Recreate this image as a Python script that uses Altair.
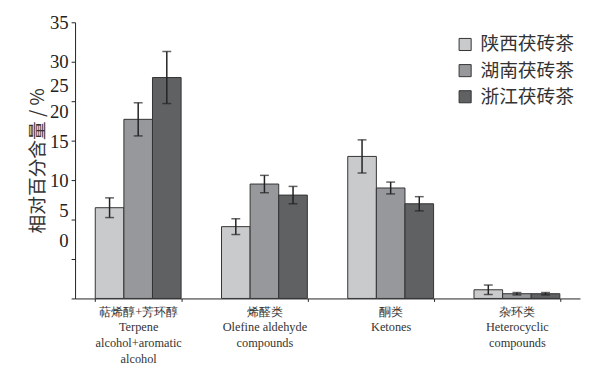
import altair as alt
import pandas as pd

categories = [
    "萜烯醇+芳环醇\nTerpene\nalcohol+aromatic\nalcohol",
    "烯醛类\nOlefine aldehyde\ncompounds",
    "酮类\nKetones",
    "杂环类\nHeterocyclic\ncompounds",
]
series = ["陕西茯砖茶", "湖南茯砖茶", "浙江茯砖茶"]
shaanxi = [11.5, 9.1, 18.0, 1.1]
shaanxi_err = [1.25, 1.0, 2.1, 0.6]
hunan = [22.7, 14.5, 14.0, 0.6]
hunan_err = [2.1, 1.1, 0.75, 0.15]
zhejiang = [28.0, 13.1, 12.0, 0.6]
zhejiang_err = [3.3, 1.1, 0.9, 0.15]
y_ticks = [0, 5, 10, 15, 20, 25, 30, 35]
colors = ["#c9cacc", "#96989b", "#5f6163"]

rows = []
for s, vals, errs in zip(series, [shaanxi, hunan, zhejiang], [shaanxi_err, hunan_err, zhejiang_err]):
    for c, v, e in zip(categories, vals, errs):
        rows.append({"cat": c, "series": s, "value": v, "lo": v - e, "hi": v + e})
df = pd.DataFrame(rows)

xaxis = alt.Axis(
    labelExpr="split(datum.label, '\\n')", labelAngle=0, labelFont="Liberation Serif",
    labelFontSize=12.5, labelColor="#333", labelLineHeight=16, labelPadding=4,
    tickBand="extent", tickSize=3, tickColor="#222", domainColor="#222",
    labelBaseline="top",
)
xscale = alt.Scale(paddingInner=0.32, paddingOuter=0.16)
xenc = alt.X("cat:N", sort=categories, title=None, scale=xscale, axis=xaxis)

yscale = alt.Scale(domain=[0, 35], nice=False)
offset_expr = ("datum.value == 25 ? -16 : datum.value == 20 ? -29 : datum.value == 15 ? -39 : "
               "datum.value == 10 ? -39 : datum.value == 5 ? -49 : datum.value == 0 ? -59 : 0")
yaxis = alt.Axis(values=y_ticks, tickSize=4, tickColor="#222",
                 domainColor="#222", grid=False, labelFont="Liberation Serif",
                 labelFontSize=19, labelColor="#222", labelPadding=3,
                 labelOverlap=False, labelFlush=False, labelBound=False,
                 labelOffset={"expr": offset_expr},
                 titleFont="Noto Sans CJK SC", titleFontSize=19, titleFontWeight="normal",
                 titleColor="#333", titlePadding=2)
ytitle = "相对百分含量 / %"
xoff = alt.XOffset("series:N", sort=series)

bars = alt.Chart(df).mark_bar(stroke="#333", strokeWidth=1).encode(
    x=xenc,
    xOffset=xoff,
    y=alt.Y("value:Q", scale=yscale, title=ytitle, axis=yaxis),
    fill=alt.Fill("series:N", sort=series, scale=alt.Scale(domain=series, range=colors),
                  legend=alt.Legend(title=None, orient="none", legendX=386, legendY=13,
                                    symbolType="square", symbolSize=150, symbolStrokeColor="#333",
                                    symbolStrokeWidth=1, labelFont="Noto Sans CJK SC",
                                    labelFontSize=19, labelColor="#333", rowPadding=6.5,
                                    labelOffset=6)),
)

rules = alt.Chart(df).mark_rule(color="#222", strokeWidth=1.5).encode(
    x=xenc,
    xOffset=xoff,
    y=alt.Y("lo:Q", scale=yscale, title=ytitle, axis=yaxis),
    y2="hi:Q",
)
cap_lo = alt.Chart(df).mark_tick(color="#222", thickness=1.5, size=9).encode(
    x=xenc,
    xOffset=xoff,
    y=alt.Y("lo:Q", scale=yscale, title=ytitle, axis=yaxis),
)
cap_hi = alt.Chart(df).mark_tick(color="#222", thickness=1.5, size=9).encode(
    x=xenc,
    xOffset=xoff,
    y=alt.Y("hi:Q", scale=yscale, title=ytitle, axis=yaxis),
)

chart = alt.layer(bars, rules, cap_lo, cap_hi).properties(
    width=512, height=280,
    autosize=alt.AutoSizeParams(type="none"),
    padding={"left": 68, "top": 12, "right": 2, "bottom": 66},
).configure(
    background="white",
    view=alt.ViewConfig(stroke=None),
    axisY=alt.AxisConfig(labelOverlap=False),
)

chart.save("out.html", embed_options={"renderer": "svg", "actions": False})
